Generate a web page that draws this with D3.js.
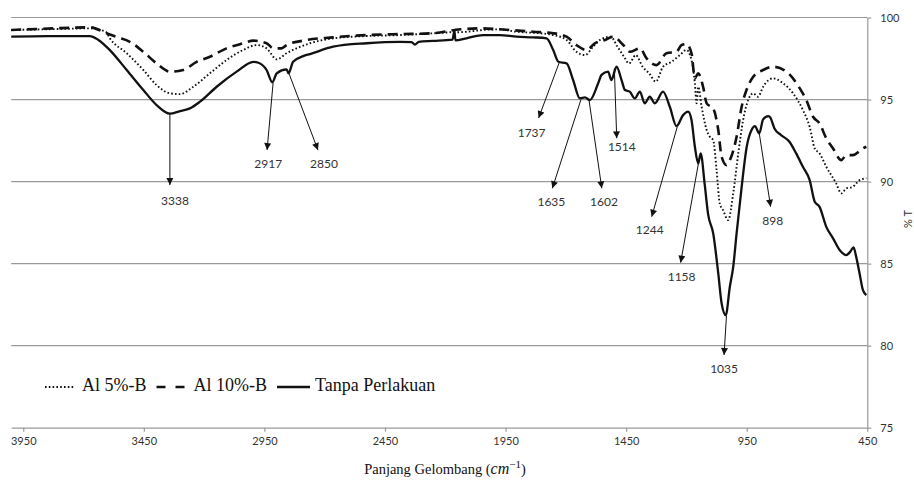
<!DOCTYPE html>
<html>
<head>
<meta charset="utf-8">
<script src="https://cdn.jsdelivr.net/npm/d3@7"></script>
<style>
  body { margin: 0; background: #fff; }
  svg { display: block; }
</style>
</head>
<body>
<svg id="graph"></svg>
<script>
const width = 914;
const height = 480;

// ---- data ----
const seriesNames = ["Al 5%-B", "Al 10%-B", "Tanpa Perlakuan"];

const dotWn = [4000,3800,3674,3608,3591,3521,3452,3397,3342,3300,3245,3176,3107,3038,2982,2941,2899,2858,2817,2761,2665,2526,2388,2250,2166,2160,2150,2112,2043,1974,1904,1835,1752,1697,1656,1621,1587,1559,1514,1486,1459,1438,1410,1382,1355,1327,1297,1262,1227,1200,1179,1165,1158,1151,1137,1116,1103,1089,1075,1062,1048,1027,1006,985,965,944,923,903,882,841,799,758,717,689,668,648,620,579,558,537,510,482,454];
const dotT  = [99.24,99.3,99.34,99.13,98.73,97.82,96.8,95.88,95.38,95.33,95.78,96.6,97.41,98.02,98.32,98.12,97.45,97.82,98.12,98.43,98.73,98.87,98.93,99.04,99.13,99.3,99.1,99.13,99.24,99.28,99.13,99.07,98.93,98.63,97.91,97.71,98.22,98.63,98.83,98.22,97.61,97.2,97.71,97.0,96.6,96.09,97.0,97.3,97.71,98.02,97.41,95.99,94.77,95.78,94.56,93.14,92.73,92.53,90.7,88.67,88.26,87.65,89.28,91.72,93.75,94.97,95.38,95.17,95.78,96.29,95.99,95.38,94.36,93.34,92.02,91.72,90.9,89.89,89.28,89.58,89.68,90.09,90.2];

const dashWn = [4000,3800,3674,3605,3560,3508,3452,3397,3342,3287,3231,3176,3107,3038,2996,2941,2913,2879,2858,2789,2665,2526,2388,2250,2160,2043,1974,1835,1752,1697,1656,1614,1580,1538,1504,1462,1435,1393,1365,1324,1283,1241,1220,1200,1179,1165,1151,1131,1116,1089,1068,1054,1034,1020,992,971,951,923,882,841,785,730,703,675,648,620,592,558,537,510,468,454];
const dashT  = [99.24,99.35,99.4,99.04,98.8,98.52,97.91,97.2,96.7,96.8,97.3,97.61,98.12,98.43,98.59,98.43,98.12,98.12,98.32,98.59,98.79,98.93,98.99,99.04,99.24,99.34,99.28,99.13,99.04,98.83,98.32,98.02,98.43,98.63,98.83,98.32,97.91,98.12,97.51,97.1,97.82,97.91,98.32,98.38,97.82,96.29,96.6,95.78,94.77,94.45,93.14,91.51,91.0,91.3,92.73,94.56,95.58,96.39,96.8,97.0,96.7,95.68,94.97,93.95,93.55,92.63,92.02,91.31,91.61,91.61,92.02,92.12];

const solidWn = [4000,3850,3674,3640,3590,3521,3452,3397,3342,3300,3259,3217,3148,3065,2996,2975,2941,2917,2899,2858,2850,2831,2789,2761,2665,2526,2388,2340,2326,2310,2250,2170,2162,2158,2112,2043,1974,1904,1835,1780,1752,1731,1697,1670,1642,1621,1600,1566,1552,1525,1511,1490,1469,1455,1435,1414,1393,1373,1352,1331,1297,1269,1241,1214,1193,1179,1165,1151,1141,1124,1110,1089,1068,1054,1037,1020,1006,992,971,950,930,916,898,882,861,852,835,808,773,745,717,689,668,648,620,592,564,537,522,507,496,482,468,454];
const solidT  = [98.83,98.87,98.87,98.65,98.0,96.8,95.58,94.66,94.14,94.3,94.46,94.87,95.78,96.7,97.3,97.24,96.8,96.05,96.6,96.84,96.6,97.3,97.65,97.77,98.22,98.43,98.52,98.5,98.35,98.52,98.57,98.65,99.2,98.6,98.73,98.93,98.93,98.83,98.79,98.73,98.0,97.3,97.2,96.19,95.07,95.13,94.97,95.99,96.5,96.7,96.19,97.0,96.19,95.58,95.48,95.07,95.48,94.77,95.17,94.77,95.48,94.56,93.38,94.05,94.26,93.75,92.12,91.1,91.72,89.8,88.0,86.84,84.4,82.57,81.86,83.59,84.8,86.84,89.68,92.12,93.14,93.38,92.94,93.79,93.99,93.9,93.24,92.84,92.43,91.72,90.9,90.09,88.77,88.46,87.24,86.54,85.82,85.52,85.7,85.99,85.41,84.4,83.38,83.08];

// peak annotations: arrow tail on the curve, arrow head, label (all in data units)
const peakLabels = ["3338","2917","2850","1737","1635","1602","1514","1244","1158","1035","898"];
const tailWn = [3342,2914,2852,1728,1638,1604,1499,1238,1144,1034,898];
const tailT  = [94.12,96.01,96.74,97.23,94.97,94.97,96.9,93.34,91.62,81.81,92.94];
const headWn = [3342,2939,2728,1813,1756,1551,1489,1344,1224,1044,851];
const headT  = [89.79,91.92,91.92,93.87,89.59,89.59,92.64,87.86,85.06,79.43,88.47];
const labWn  = [3321,2934,2703,1842,1760,1542,1468,1352,1220,1044,842];
const labT   = [88.77,91.01,91.01,92.9,88.71,88.71,92.03,86.99,84.14,78.52,87.55];

const xTicks = [3950,3450,2950,2450,1950,1450,950,450];
const yTicks = [75,80,85,90,95,100];
const gridT  = [80,85,90,95,100];

// ---- scales ----
let svg = d3.select('#graph')
        .attr('width', width)
        .attr('height', height);

const x = d3.scaleLinear().domain([4000, 450]).range([11.2, 867.3]);
const y = d3.scaleLinear().domain([75, 100]).range([427.7, 17.5]);

const gridColor = "#9a9a9a";

// gridlines
svg.append("g").selectAll("line")
   .data(gridT).enter().append("line")
   .attr("x1", x(4000)).attr("x2", x(450))
   .attr("y1", d => y(d)).attr("y2", d => y(d))
   .style("stroke", gridColor).style("stroke-width", 1.2);

// bottom axis
let xAxis = d3.axisBottom(x).tickValues(xTicks).tickFormat(d3.format("d"))
        .tickSize(4).tickSizeOuter(0).tickPadding(6);
let gx = svg.append("g").attr("transform", "translate(0," + y(75) + ")").call(xAxis);
gx.select(".domain").attr("stroke", gridColor).attr("stroke-width", 1.2);
gx.selectAll(".tick line").attr("stroke", gridColor).attr("stroke-width", 1.2);
gx.selectAll(".tick text").attr("fill", "#333").style("font-family", "Lato, sans-serif").style("font-size", "11px");

// right axis
let yAxis = d3.axisRight(y).tickValues(yTicks).tickFormat(d3.format("d"))
        .tickSize(4).tickSizeOuter(0).tickPadding(9);
let gy = svg.append("g").attr("transform", "translate(" + x(450) + ",0)").call(yAxis);
gy.select(".domain").attr("stroke", gridColor).attr("stroke-width", 1.2);
gy.selectAll(".tick line").attr("stroke", gridColor).attr("stroke-width", 1.2);
gy.selectAll(".tick text").attr("fill", "#333").style("font-family", "Lato, sans-serif").style("font-size", "11px");

svg.append("text")
   .attr("transform", "translate(909,219) rotate(-90)")
   .attr("text-anchor", "middle")
   .attr("dominant-baseline", "middle")
   .style("font-family", "Lato, sans-serif").style("font-size", "11px")
   .attr("fill", "#333")
   .text("% T");

// x title
let xt = svg.append("text")
   .attr("x", 445).attr("y", 474)
   .attr("text-anchor", "middle")
   .style("font-family", "'Liberation Serif', serif").style("font-size", "14.5px")
   .attr("fill", "#111");
xt.append("tspan").text("Panjang Gelombang (");
xt.append("tspan").style("font-style", "italic").style("font-size", "16px").text("cm");
xt.append("tspan").attr("dy", -6).style("font-size", "11px").text("\u22121");
xt.append("tspan").attr("dy", 6).text(")");

// ---- curves ----
let line = d3.line()
        .x(d => x(d.wn))
        .y(d => y(d.t))
        .curve(d3.curveMonotoneX);

function toPts(wn, t) { return wn.map((w, i) => ({wn: w, t: t[i]})); }

const styles = [
  {dash: "1.6,2.2", w: 1.9},
  {dash: "10,6", w: 2.6},
  {dash: null, w: 2.3}
];
const seriesData = [toPts(dotWn, dotT), toPts(dashWn, dashT), toPts(solidWn, solidT)];

seriesData.forEach((d, i) => {
  svg.append("path")
     .datum(d)
     .attr("d", line)
     .attr("fill", "none")
     .attr("stroke", "#111")
     .attr("stroke-width", styles[i].w)
     .attr("stroke-linejoin", "round")
     .attr("stroke-dasharray", styles[i].dash)
     .attr("class", "locus");
});

// ---- annotations ----
svg.append("defs").append("marker")
   .attr("id", "arrow")
   .attr("markerUnits", "userSpaceOnUse")
   .attr("viewBox", "0 0 10 10")
   .attr("refX", 10).attr("refY", 5)
   .attr("markerWidth", 8).attr("markerHeight", 7)
   .attr("orient", "auto")
   .append("path").attr("d", "M0,0L10,5L0,10Z").attr("fill", "#111");

let ann = svg.append("g");
peakLabels.forEach((lab, i) => {
  ann.append("line")
     .attr("x1", x(tailWn[i])).attr("y1", y(tailT[i]))
     .attr("x2", x(headWn[i])).attr("y2", y(headT[i]))
     .attr("stroke", "#111").attr("stroke-width", 1)
     .attr("marker-end", "url(#arrow)");
  ann.append("text")
     .attr("x", x(labWn[i])).attr("y", y(labT[i]))
     .attr("text-anchor", "middle").attr("dominant-baseline", "middle")
     .style("font-family", "Lato, sans-serif").style("font-size", "12px")
     .attr("fill", "#333")
     .text(lab);
});

// ---- legend ----
let legend = svg.append("g").attr("transform", "translate(45,387)");
let lx = 0;
seriesNames.forEach((name, i) => {
  let len = i === 2 ? 33 : 29;
  legend.append("line")
     .attr("x1", lx).attr("x2", lx + len).attr("y1", 0).attr("y2", 0)
     .attr("stroke", "#111")
     .attr("stroke-width", styles[i].w)
     .attr("stroke-dasharray", i === 1 ? "9,10" : styles[i].dash);
  let t = legend.append("text")
     .attr("x", lx + len + (i === 2 ? 5 : 8)).attr("y", 0)
     .attr("dominant-baseline", "middle")
     .style("font-family", "'Liberation Serif', serif").style("font-size", "18px")
     .attr("fill", "#111")
     .text(name);
  lx = lx + len + (i === 2 ? 5 : 8) + t.node().getComputedTextLength() + 10;
});
</script>
</body>
</html>
